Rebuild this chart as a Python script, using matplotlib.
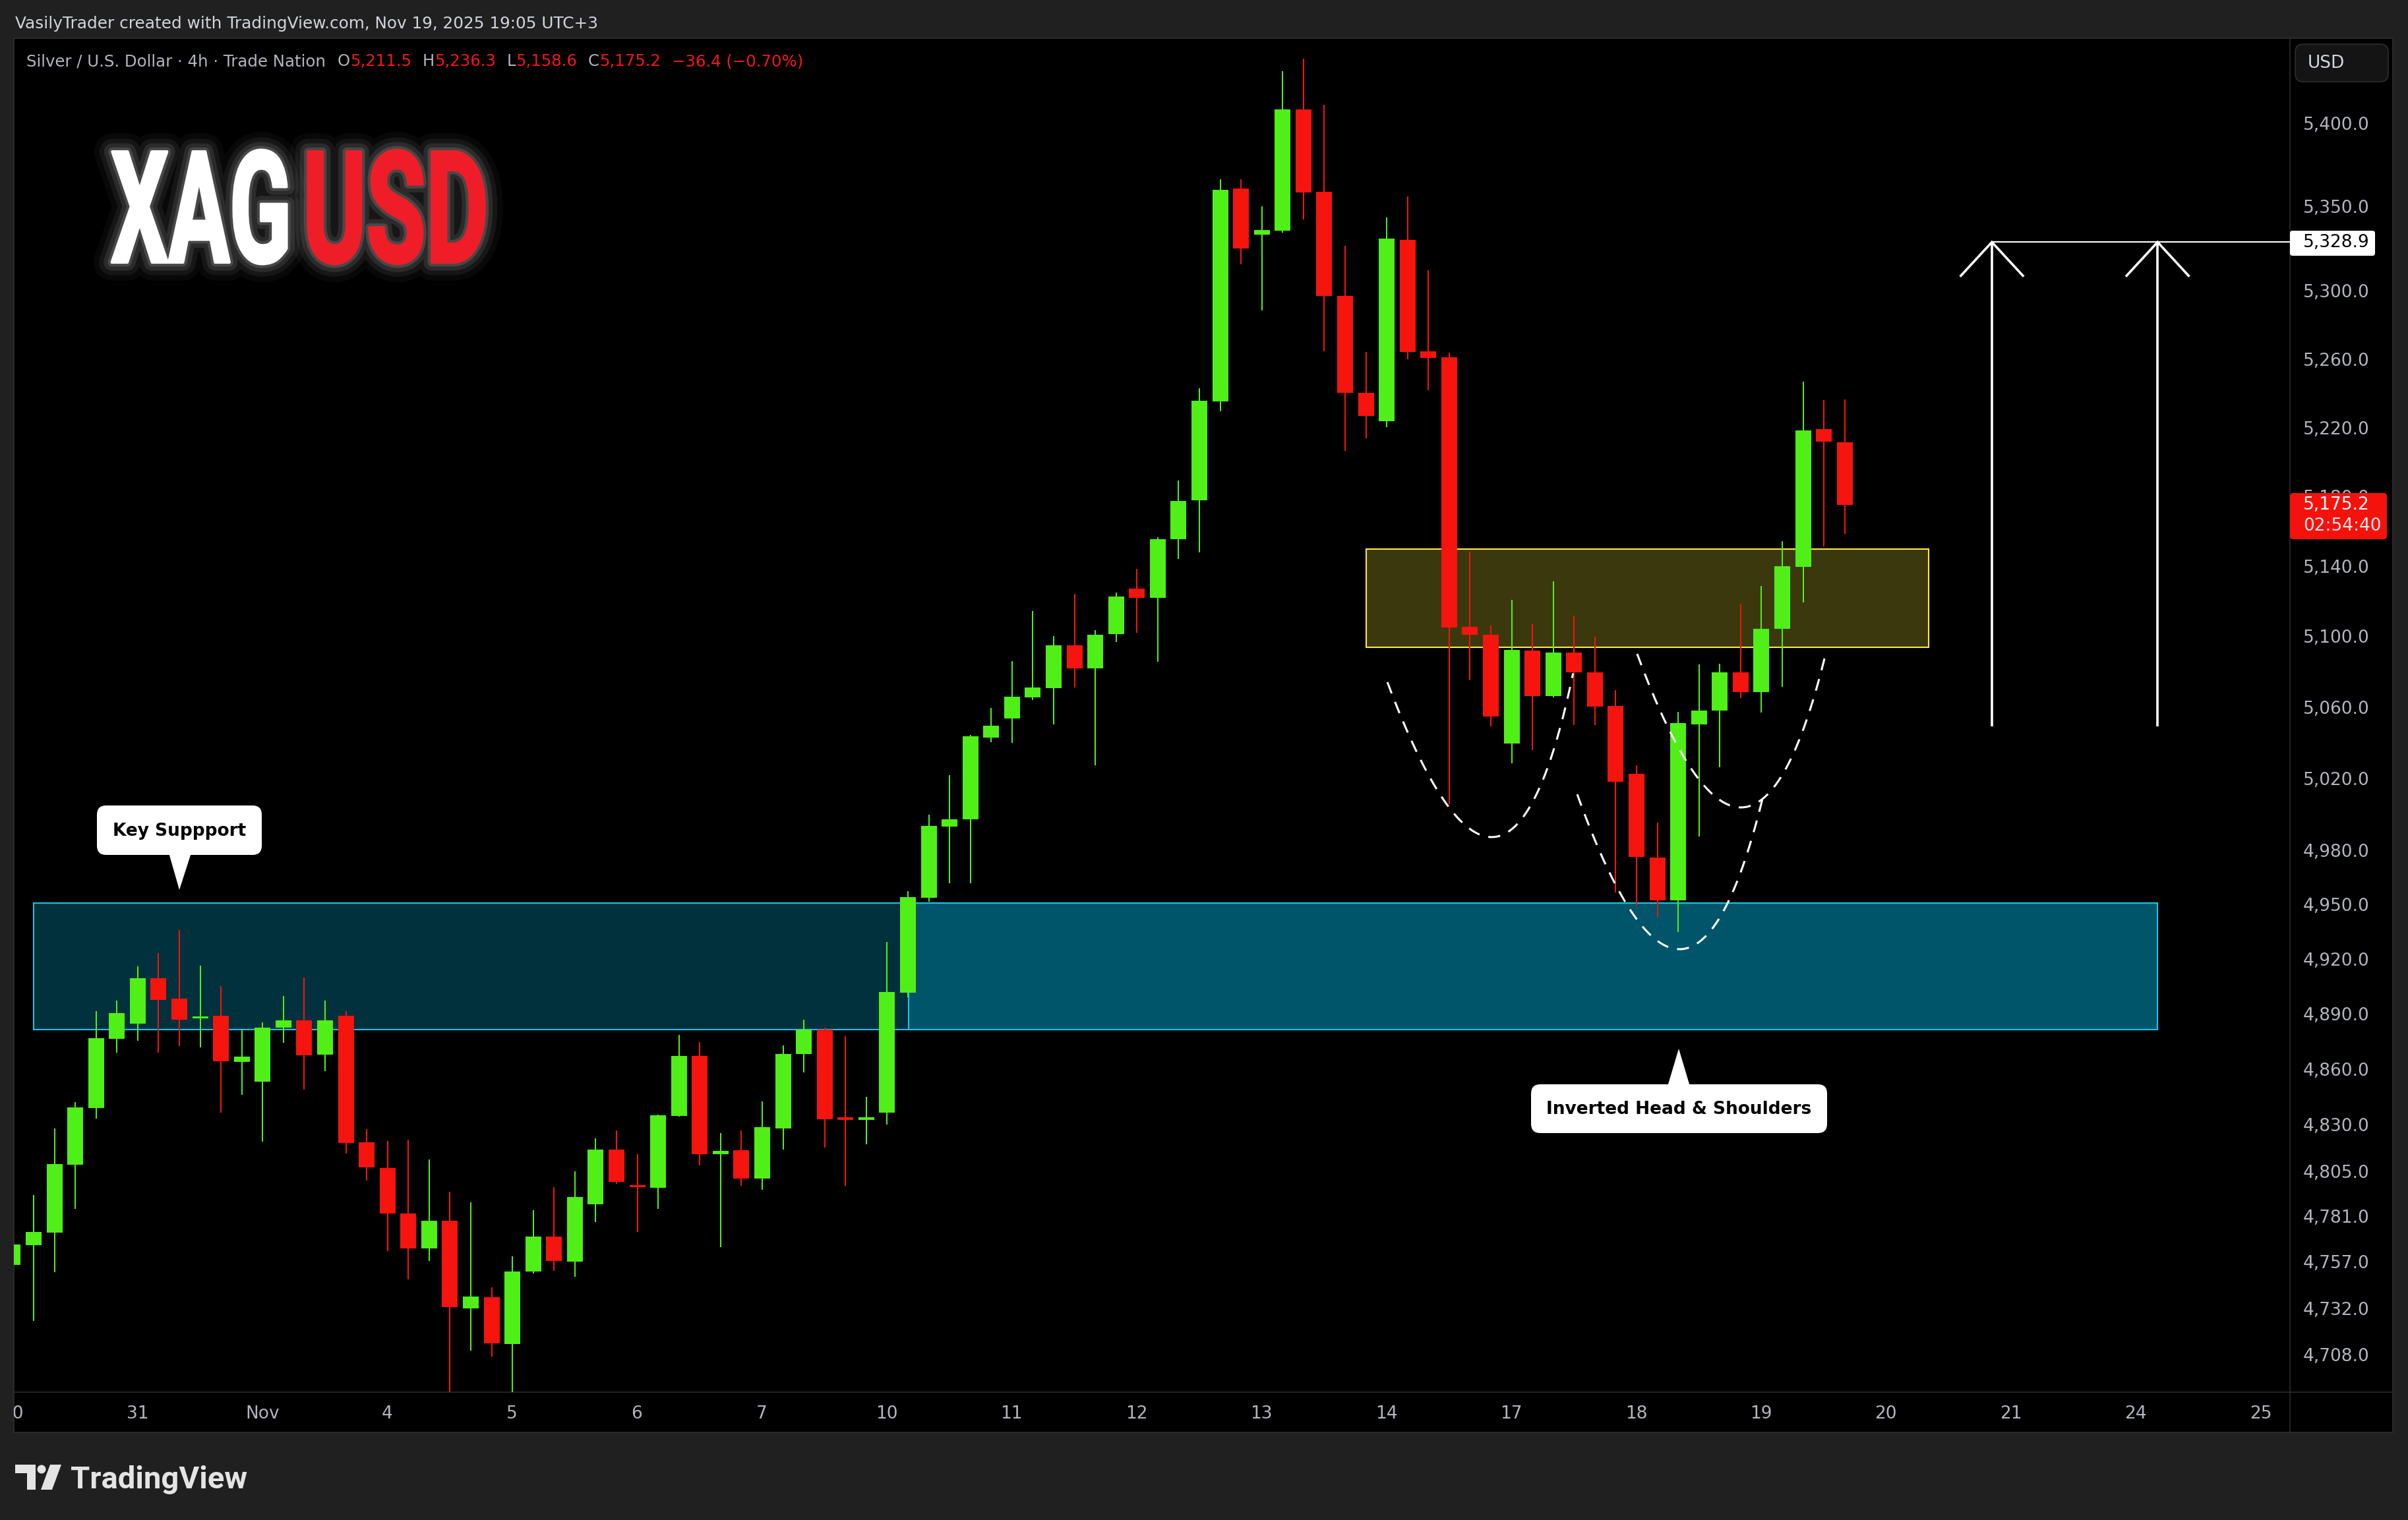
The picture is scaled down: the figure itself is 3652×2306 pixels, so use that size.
import numpy as np
import matplotlib
matplotlib.use("Agg")
import matplotlib.pyplot as plt
from matplotlib.patches import Rectangle, FancyBboxPatch, Polygon, Circle
from matplotlib.ticker import FixedLocator, NullLocator, FuncFormatter
from matplotlib.transforms import Affine2D, blended_transform_factory
from matplotlib.patheffects import AbstractPathEffect

# ---------------- data (XAGUSD 4h, Trade Nation) ----------------
opens = [4755.0, 4765.5, 4772.4, 4808.6, 4838.8, 4876.5, 4884.6, 4909.4, 4898.2, 4887.5,
         4889.0, 4864.0, 4853.3, 4882.5, 4886.4, 4867.8, 4889.0, 4820.6, 4806.8, 4782.4,
         4763.9, 4778.5, 4732.1, 4738.1, 4713.5, 4751.6, 4770.2, 4756.9, 4787.4, 4816.6,
         4797.5, 4796.2, 4834.7, 4867.2, 4814.2, 4816.3, 4801.2, 4828.1, 4868.3, 4881.4,
         4834.0, 4832.7, 4836.3, 4901.5, 4953.5, 4993.2, 4997.0, 5042.9, 5053.4, 5065.5,
         5070.7, 5095.0, 5081.7, 5101.3, 5127.0, 5122.0, 5155.3, 5177.7, 5235.0, 5360.7,
         5333.4, 5335.7, 5408.4, 5358.9, 5297.2, 5240.2, 5223.6, 5330.2, 5264.5, 5260.9,
         5105.3, 5100.8, 5039.5, 5092.0, 5066.1, 5090.6, 5079.4, 5060.4, 5022.5, 4975.8,
         4952.1, 5050.3, 5058.0, 5079.4, 5068.3, 5104.1, 5139.6, 5219.0, 5211.5]
highs = [4771.0, 4792.1, 4828.0, 4842.3, 4891.4, 4897.1, 4915.8, 4923.2, 4935.9, 4916.2,
         4905.1, 4881.3, 4885.3, 4899.7, 4909.7, 4897.1, 4891.4, 4827.6, 4821.2, 4821.9,
         4811.4, 4794.0, 4788.5, 4743.2, 4759.7, 4784.2, 4796.4, 4805.0, 4822.6, 4826.9,
         4814.1, 4835.5, 4878.5, 4874.7, 4825.5, 4826.8, 4842.5, 4872.8, 4886.8, 4882.6,
         4877.9, 4845.0, 4929.3, 4957.2, 4999.6, 5021.7, 5044.1, 5059.6, 5086.0, 5114.4,
         5100.2, 5124.1, 5103.3, 5124.9, 5138.6, 5156.6, 5189.4, 5242.9, 5366.3, 5366.5,
         5350.1, 5431.3, 5438.9, 5411.1, 5326.6, 5263.9, 5343.4, 5356.2, 5312.3, 5263.5,
         5148.3, 5106.2, 5120.7, 5107.0, 5131.1, 5111.9, 5099.7, 5069.5, 5027.1, 4995.3,
         5057.4, 5083.9, 5084.3, 5118.2, 5128.6, 5154.3, 5246.6, 5235.8, 5236.3]
lows = [4745.0, 4725.6, 4751.4, 4784.8, 4833.3, 4868.8, 4875.3, 4868.7, 4872.6, 4871.9,
        4836.4, 4846.0, 4820.8, 4874.2, 4848.8, 4858.9, 4814.6, 4800.0, 4762.5, 4747.4,
        4757.2, 4686.0, 4709.8, 4706.8, 4686.0, 4750.5, 4751.9, 4748.8, 4777.8, 4798.2,
        4772.5, 4784.7, 4834.3, 4808.2, 4764.5, 4797.3, 4794.9, 4816.7, 4858.0, 4817.5,
        4797.3, 4819.5, 4830.1, 4899.1, 4951.4, 4961.6, 4961.5, 5040.2, 5039.9, 5063.8,
        5050.2, 5071.0, 5027.4, 5096.8, 5102.0, 5085.7, 5144.0, 5147.8, 5229.4, 5315.9,
        5288.5, 5334.5, 5342.2, 5264.5, 5206.4, 5213.7, 5220.1, 5259.7, 5241.7, 5005.4,
        5075.0, 5049.0, 5028.3, 5035.8, 5065.3, 5049.8, 5049.8, 4956.6, 4949.4, 4943.1,
        4934.6, 4987.7, 5026.2, 5065.2, 5057.0, 5071.2, 5119.3, 5151.4, 5158.6]
closes = [4766.0, 4772.5, 4808.7, 4839.3, 4876.8, 4890.4, 4909.4, 4897.7, 4886.9, 4888.5,
          4864.2, 4866.8, 4882.5, 4886.4, 4867.4, 4886.4, 4820.0, 4807.1, 4782.4, 4763.9,
          4778.5, 4732.8, 4738.5, 4713.8, 4751.6, 4770.2, 4757.2, 4791.1, 4816.6, 4799.3,
          4796.5, 4835.0, 4867.2, 4814.2, 4815.8, 4801.2, 4828.7, 4868.1, 4881.4, 4833.0,
          4832.6, 4833.3, 4901.8, 4953.8, 4993.4, 4997.2, 5043.6, 5049.5, 5065.8, 5071.0,
          5094.7, 5081.7, 5101.0, 5122.6, 5121.8, 5155.6, 5177.5, 5235.5, 5360.2, 5325.1,
          5336.2, 5408.4, 5358.3, 5297.2, 5240.2, 5226.8, 5331.1, 5264.2, 5260.6, 5105.0,
          5100.8, 5054.6, 5092.3, 5066.1, 5090.6, 5079.4, 5060.2, 5018.2, 4976.1, 4952.1,
          5051.0, 5057.8, 5079.4, 5068.3, 5104.4, 5140.0, 5218.2, 5211.6, 5175.2]

day_labels = ["30", "31", "Nov", "4", "5", "6", "7", "10", "11", "12", "13", "14",
              "17", "18", "19", "20", "21", "24", "25"]
bars_per_day = 6
price_ticks = [5400, 5350, 5300, 5260, 5220, 5180, 5140, 5100, 5060, 5020, 4980,
               4950, 4920, 4890, 4860, 4830, 4805, 4781, 4757, 4732, 4708]

support_zone = (4881.3, 4950.8)
support_span = (1.0, 103.03)
support_span2 = (43.03, 103.03)
breakout_zone = (5093.6, 5149.9)
breakout_span = (65.02, 92.03)
target_price = 5328.9
arrow_base = 5049.0
arrow_bars = [95.07, 103.03]
left_shoulder = [(66.03, 5074.0), (71.1, 4987.2), (74.95, 5079.0)]
head = [(75.15, 5011.0), (80.03, 4925.3), (84.05, 5008.5)]
right_shoulder = [(78.03, 5090.0), (83.0, 5003.7), (87.06, 5088.9)]

# ---------------- style ----------------
W, H, DPI = 3652, 2306, 100
GREEN = "#50ef17"
RED = "#f5140e"
GRAY_TXT = "#b2b5be"
LIGHT_TXT = "#d1d4dc"
LEG_RED = "#f5161a"

fig = plt.figure(figsize=((W + 0.01) / DPI, (H + 0.01) / DPI), dpi=DPI, facecolor="#202020")


def frect(x0, y0, x1, y1):
    return [x0 / W, 1 - y1 / H, (x1 - x0) / W, (y1 - y0) / H]


# background panel
bg = fig.add_axes([0, 0, 1, 1], zorder=-5)
bg.set_xlim(0, W); bg.set_ylim(H, 0); bg.axis("off")
bg.add_patch(Rectangle((21, 58), 3629 - 21, 2173 - 58, facecolor="black",
                       edgecolor="#2f2f2f", lw=1.2))
bg.plot([3473, 3473], [58, 2173], color="#2b2b2b", lw=1.2)
bg.plot([21, 3629], [2112, 2112], color="#2b2b2b", lw=1.2)

# main price pane
ax = fig.add_axes(frect(21, 58, 3473, 2112), zorder=1)
ax.set_facecolor("none")
for s in ax.spines.values():
    s.set_visible(False)
ax.set_yscale("log")
ax.set_xlim(0.0475, 109.39)
ax.set_ylim(4688.2, 5451.3)
ax.set_xticks([])
ax.yaxis.tick_right()
ax.yaxis.set_major_locator(FixedLocator(price_ticks))
ax.yaxis.set_minor_locator(NullLocator())
ax.yaxis.set_major_formatter(FuncFormatter(lambda v, p: f"{v:,.1f}"))
ax.tick_params(axis="y", which="both", length=0, pad=14.4, labelsize=19,
               labelcolor=GRAY_TXT)

o = np.array(opens); h = np.array(highs); l = np.array(lows); c = np.array(closes)
x = np.arange(len(o))
cols = np.where(c >= o, GREEN, RED)

# zones (behind candles)
ax.add_patch(Rectangle((support_span[0], support_zone[0]), support_span[1] - support_span[0],
                       support_zone[1] - support_zone[0], facecolor=(0, 0.745, 0.925, 0.26),
                       edgecolor="#18c4ec", lw=1.5, zorder=1))
ax.add_patch(Rectangle((support_span2[0], support_zone[0]), support_span2[1] - support_span2[0],
                       support_zone[1] - support_zone[0], facecolor=(0, 0.745, 0.925, 0.26),
                       edgecolor="#18c4ec", lw=1.5, zorder=1))
ax.add_patch(Rectangle((breakout_span[0], breakout_zone[0]), breakout_span[1] - breakout_span[0],
                       breakout_zone[1] - breakout_zone[0], facecolor=(1.0, 0.92, 0.23, 0.24),
                       edgecolor="#ffe93b", lw=1.5, zorder=1))

# candles
ax.vlines(x, l, h, colors=cols, lw=1.45, zorder=3)
body_bottom = np.minimum(o, c)
body_h = np.maximum(np.abs(c - o), 1.1)
ax.bar(x, body_h, bottom=body_bottom, width=0.76, color=cols, lw=0, zorder=4)


# inverse head & shoulders arcs
def arc(pts, n=200):
    P = np.array([[px, np.log(pp)] for px, pp in pts])
    P0, V, P2 = P
    P1 = 2 * V - (P0 + P2) / 2
    t = np.linspace(0, 1, n)[:, None]
    B = (1 - t) ** 2 * P0 + 2 * t * (1 - t) * P1 + t ** 2 * P2
    return B[:, 0], np.exp(B[:, 1])


for pts in (left_shoulder, head, right_shoulder):
    ax_x, ax_p = arc(pts)
    ax.plot(ax_x, ax_p, color="white", lw=2.2, ls=(0, (6, 4.5)), zorder=6)

# target arrows
head_dx = 1.49
head_p = target_price * np.exp(-51 / 13620)
for xa in arrow_bars:
    ax.plot([xa, xa], [arrow_base, target_price], color="white", lw=2.6,
            solid_capstyle="butt", zorder=7)
    ax.plot([xa - head_dx, xa, xa + head_dx], [head_p, target_price, head_p],
            color="white", lw=2.6, solid_joinstyle="miter", zorder=7)
ax.plot([arrow_bars[0], 109.39], [target_price, target_price], color="white", lw=1.5, zorder=7)

# time axis
ax_time = fig.add_axes(frect(21, 2112, 3473, 2173), sharex=ax, zorder=1)
ax_time.set_facecolor("none")
ax_time.axis("off")
tr = blended_transform_factory(ax_time.transData, ax_time.transAxes)
for k, lab in enumerate(day_labels):
    ax_time.text(k * bars_per_day - 0.02, 0.46, lab, transform=tr, ha="center", va="center",
                 fontsize=19, color=GRAY_TXT, clip_on=True)

# ---------------- overlay (pixel coordinates) ----------------
ov = fig.add_axes([0, 0, 1, 1], zorder=10)
ov.set_xlim(0, W); ov.set_ylim(H, 0); ov.axis("off")
ov.patch.set_alpha(0)
renderer = fig.canvas.get_renderer()

UI = ["DejaVu Sans"]
hdr = ov.text(23, 36, "VasilyTrader created with TradingView.com, Nov 19, 2025 19:05 UTC+3",
              fontsize=17, family=UI, color=LIGHT_TXT, va="center", ha="left")
wb = hdr.get_window_extent(renderer=renderer).width
hdr_size = 17 * 882 / wb
hdr.set_fontsize(hdr_size)

chg = closes[-1] - closes[-2]
pct = chg / closes[-2] * 100
segs = [("Silver / U.S. Dollar · 4h · Trade Nation", GRAY_TXT, 0),
        ("O", GRAY_TXT, 13), (f"{opens[-1]:,.1f}", LEG_RED, 0),
        ("H", GRAY_TXT, 12), (f"{highs[-1]:,.1f}", LEG_RED, 0),
        ("L", GRAY_TXT, 12), (f"{lows[-1]:,.1f}", LEG_RED, 0),
        ("C", GRAY_TXT, 12), (f"{closes[-1]:,.1f}", LEG_RED, 0),
        (f"{chg:+.1f} ({pct:+.2f}%)".replace("-", "\u2212"), LEG_RED, 12)]
leg_size = hdr_size * 0.985
prev = None
for txt, col, gap in segs:
    if prev is None:
        prev = ov.text(40, 93, txt, fontsize=leg_size, family=UI, color=col, va="center", ha="left")
    else:
        prev = ov.annotate(txt, xy=(1, 0.5), xycoords=prev, xytext=(gap, 0),
                           textcoords="offset points", fontsize=leg_size, family=UI,
                           color=col, va="center", ha="left")


# title with vertical stretch + glow path effects
class Stretch(AbstractPathEffect):
    def __init__(self, sy, lw=None, color=None, alpha=1.0):
        super().__init__()
        self.sy, self.lw, self.color, self.alpha = sy, lw, color, alpha

    def draw_path(self, renderer, gc, tpath, affine, rgbFace=None):
        y0 = affine.transform(np.array([[0.0, 0.0]]))[0][1]
        st = affine + Affine2D().translate(0, -y0).scale(1, self.sy).translate(0, y0)
        gc0 = renderer.new_gc()
        gc0.copy_properties(gc)
        if self.lw is None:
            renderer.draw_path(gc0, tpath, st, rgbFace)
        else:
            gc0.set_linewidth(self.lw)
            gc0.set_foreground(self.color)
            gc0.set_alpha(self.alpha)
            gc0.set_joinstyle("round")
            renderer.draw_path(gc0, tpath, st, None)
        gc0.restore()


TITLE_FONT = ["Roboto", "DejaVu Sans"]
for s, col, x0, x1 in [("XAG", "#ffffff", 168, 446), ("USD", "#ee1d27", 459, 745)]:
    t = ov.text(x0, 398, s, fontsize=100, fontweight="bold", family=TITLE_FONT,
                color=col, va="baseline", ha="left", zorder=3)
    bb = t.get_window_extent(renderer=renderer)
    fs = 100 * (x1 - x0 - 4) / bb.width
    t.set_fontsize(fs)
    cap_px = 0.711 * fs * DPI / 72
    sy = 168 / cap_px
    t.set_path_effects([Stretch(sy, 40, "white", 0.035), Stretch(sy, 28, "white", 0.06),
                        Stretch(sy, 18, "white", 0.09), Stretch(sy, 9, "white", 0.14),
                        Stretch(sy, 3, col, 1.0), Stretch(sy)])


# callouts
def callout(x0, y0, x1, y1, tri, text):
    ov.add_patch(FancyBboxPatch((x0, y0), x1 - x0, y1 - y0,
                                boxstyle="round,pad=0,rounding_size=14",
                                fc="white", ec="none", zorder=5))
    ov.add_patch(Polygon(tri, closed=True, fc="white", ec="none", zorder=5))
    ov.text((x0 + x1) / 2, (y0 + y1) / 2 + 1, text, ha="center", va="center", fontsize=19,
            fontweight="bold", color="black", zorder=6)


callout(147, 1222, 397, 1297, [(256, 1294), (290, 1294), (272, 1350)], "Key Suppport")
callout(2322, 1645, 2771, 1719, [(2529, 1648), (2563, 1648), (2546, 1591)],
        "Inverted Head & Shoulders")

# price axis boxes
ov.add_patch(FancyBboxPatch((3481, 67), 141, 57, boxstyle="round,pad=0,rounding_size=12",
                            fc="#141414", ec="#2e2e2e", lw=1.2, zorder=4))
ov.text(3528, 96, "USD", ha="center", va="center", fontsize=19, color=LIGHT_TXT, zorder=5)

ov.add_patch(FancyBboxPatch((3473, 350), 129, 38, boxstyle="round,pad=0,rounding_size=4",
                            fc="white", ec="none", zorder=4))
ov.text(3493, 368, f"{target_price:,.1f}", ha="left", va="center", fontsize=19,
        color="black", zorder=5)

ov.add_patch(FancyBboxPatch((3473, 748), 147, 70, boxstyle="round,pad=0,rounding_size=5",
                            fc="#f5120c", ec="none", zorder=4))
ov.text(3493, 766, f"{closes[-1]:,.1f}", ha="left", va="center", fontsize=19,
        color="white", zorder=5)
ov.text(3493, 798, "02:54:40", ha="left", va="center", fontsize=19, color="#ffe5e5", zorder=5)

# TradingView logo
LOGO = "#e4e4e4"
ov.add_patch(Polygon([(23, 2222), (54, 2222), (54, 2260), (41, 2260), (41, 2235), (23, 2235)],
                     closed=True, fc=LOGO, ec="none"))
ov.add_patch(Circle((63, 2229), 6.5, fc=LOGO, ec="none"))
ov.add_patch(Polygon([(76, 2222), (93, 2222), (79, 2260), (62, 2260)], closed=True,
                     fc=LOGO, ec="none"))
ov.text(107, 2258, "TradingView", ha="left", va="baseline", fontsize=34, fontweight="bold",
        family=["Roboto", "DejaVu Sans"], color=LOGO)

fig.savefig("out.png", dpi=DPI, facecolor=fig.get_facecolor())
